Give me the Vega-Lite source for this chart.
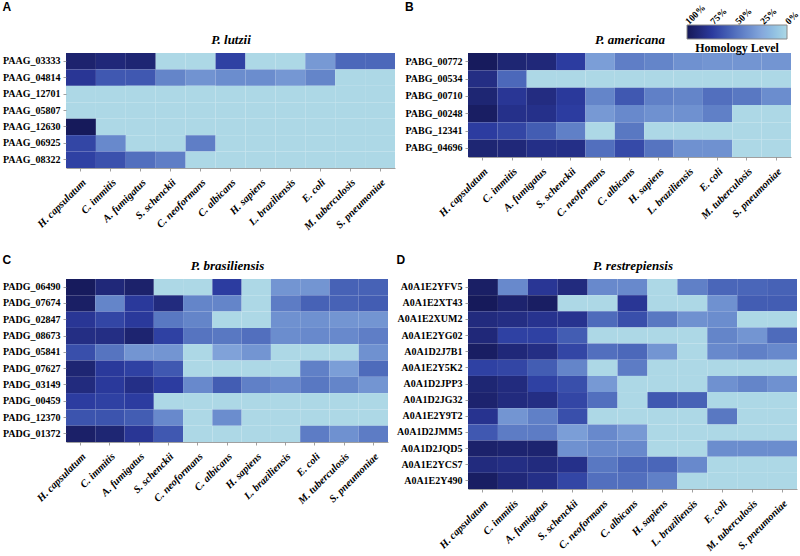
{
  "$schema": "https://vega.github.io/schema/vega-lite/v6.json",
  "padding": {"left": 2, "top": 1, "right": 0, "bottom": 0},
  "background": "white",
  "datasets": {
    "cells": [
      {"p":"A","g":"PAAG_03333","s":"H. capsulatum","v":92},{"p":"A","g":"PAAG_03333","s":"C. immitis","v":88},{"p":"A","g":"PAAG_03333","s":"A. fumigatus","v":90},{"p":"A","g":"PAAG_03333","s":"S. schenckii","v":0},{"p":"A","g":"PAAG_03333","s":"C. neoformans","v":0},{"p":"A","g":"PAAG_03333","s":"C. albicans","v":72},{"p":"A","g":"PAAG_03333","s":"H. sapiens","v":0},{"p":"A","g":"PAAG_03333","s":"L. braziliensis","v":0},{"p":"A","g":"PAAG_03333","s":"E. coli","v":32},{"p":"A","g":"PAAG_03333","s":"M. tuberculosis","v":55},{"p":"A","g":"PAAG_03333","s":"S. pneumoniae","v":55},
      {"p":"A","g":"PAAG_04814","s":"H. capsulatum","v":78},{"p":"A","g":"PAAG_04814","s":"C. immitis","v":62},{"p":"A","g":"PAAG_04814","s":"A. fumigatus","v":62},{"p":"A","g":"PAAG_04814","s":"S. schenckii","v":42},{"p":"A","g":"PAAG_04814","s":"C. neoformans","v":35},{"p":"A","g":"PAAG_04814","s":"C. albicans","v":38},{"p":"A","g":"PAAG_04814","s":"H. sapiens","v":38},{"p":"A","g":"PAAG_04814","s":"L. braziliensis","v":33},{"p":"A","g":"PAAG_04814","s":"E. coli","v":42},{"p":"A","g":"PAAG_04814","s":"M. tuberculosis","v":0},{"p":"A","g":"PAAG_04814","s":"S. pneumoniae","v":0},
      {"p":"A","g":"PAAG_12701","s":"H. capsulatum","v":0},{"p":"A","g":"PAAG_12701","s":"C. immitis","v":0},{"p":"A","g":"PAAG_12701","s":"A. fumigatus","v":0},{"p":"A","g":"PAAG_12701","s":"S. schenckii","v":0},{"p":"A","g":"PAAG_12701","s":"C. neoformans","v":0},{"p":"A","g":"PAAG_12701","s":"C. albicans","v":0},{"p":"A","g":"PAAG_12701","s":"H. sapiens","v":0},{"p":"A","g":"PAAG_12701","s":"L. braziliensis","v":0},{"p":"A","g":"PAAG_12701","s":"E. coli","v":0},{"p":"A","g":"PAAG_12701","s":"M. tuberculosis","v":0},{"p":"A","g":"PAAG_12701","s":"S. pneumoniae","v":0},
      {"p":"A","g":"PAAG_05807","s":"H. capsulatum","v":0},{"p":"A","g":"PAAG_05807","s":"C. immitis","v":0},{"p":"A","g":"PAAG_05807","s":"A. fumigatus","v":0},{"p":"A","g":"PAAG_05807","s":"S. schenckii","v":0},{"p":"A","g":"PAAG_05807","s":"C. neoformans","v":0},{"p":"A","g":"PAAG_05807","s":"C. albicans","v":0},{"p":"A","g":"PAAG_05807","s":"H. sapiens","v":0},{"p":"A","g":"PAAG_05807","s":"L. braziliensis","v":0},{"p":"A","g":"PAAG_05807","s":"E. coli","v":0},{"p":"A","g":"PAAG_05807","s":"M. tuberculosis","v":0},{"p":"A","g":"PAAG_05807","s":"S. pneumoniae","v":0},
      {"p":"A","g":"PAAG_12630","s":"H. capsulatum","v":99},{"p":"A","g":"PAAG_12630","s":"C. immitis","v":0},{"p":"A","g":"PAAG_12630","s":"A. fumigatus","v":0},{"p":"A","g":"PAAG_12630","s":"S. schenckii","v":0},{"p":"A","g":"PAAG_12630","s":"C. neoformans","v":0},{"p":"A","g":"PAAG_12630","s":"C. albicans","v":0},{"p":"A","g":"PAAG_12630","s":"H. sapiens","v":0},{"p":"A","g":"PAAG_12630","s":"L. braziliensis","v":0},{"p":"A","g":"PAAG_12630","s":"E. coli","v":0},{"p":"A","g":"PAAG_12630","s":"M. tuberculosis","v":0},{"p":"A","g":"PAAG_12630","s":"S. pneumoniae","v":0},
      {"p":"A","g":"PAAG_06925","s":"H. capsulatum","v":70},{"p":"A","g":"PAAG_06925","s":"C. immitis","v":40},{"p":"A","g":"PAAG_06925","s":"A. fumigatus","v":0},{"p":"A","g":"PAAG_06925","s":"S. schenckii","v":0},{"p":"A","g":"PAAG_06925","s":"C. neoformans","v":45},{"p":"A","g":"PAAG_06925","s":"C. albicans","v":0},{"p":"A","g":"PAAG_06925","s":"H. sapiens","v":0},{"p":"A","g":"PAAG_06925","s":"L. braziliensis","v":0},{"p":"A","g":"PAAG_06925","s":"E. coli","v":0},{"p":"A","g":"PAAG_06925","s":"M. tuberculosis","v":0},{"p":"A","g":"PAAG_06925","s":"S. pneumoniae","v":0},
      {"p":"A","g":"PAAG_08322","s":"H. capsulatum","v":72},{"p":"A","g":"PAAG_08322","s":"C. immitis","v":65},{"p":"A","g":"PAAG_08322","s":"A. fumigatus","v":52},{"p":"A","g":"PAAG_08322","s":"S. schenckii","v":45},{"p":"A","g":"PAAG_08322","s":"C. neoformans","v":0},{"p":"A","g":"PAAG_08322","s":"C. albicans","v":0},{"p":"A","g":"PAAG_08322","s":"H. sapiens","v":0},{"p":"A","g":"PAAG_08322","s":"L. braziliensis","v":0},{"p":"A","g":"PAAG_08322","s":"E. coli","v":0},{"p":"A","g":"PAAG_08322","s":"M. tuberculosis","v":0},{"p":"A","g":"PAAG_08322","s":"S. pneumoniae","v":0},

      {"p":"B","g":"PABG_00772","s":"H. capsulatum","v":98},{"p":"B","g":"PABG_00772","s":"C. immitis","v":90},{"p":"B","g":"PABG_00772","s":"A. fumigatus","v":88},{"p":"B","g":"PABG_00772","s":"S. schenckii","v":74},{"p":"B","g":"PABG_00772","s":"C. neoformans","v":30},{"p":"B","g":"PABG_00772","s":"C. albicans","v":45},{"p":"B","g":"PABG_00772","s":"H. sapiens","v":42},{"p":"B","g":"PABG_00772","s":"L. braziliensis","v":36},{"p":"B","g":"PABG_00772","s":"E. coli","v":34},{"p":"B","g":"PABG_00772","s":"M. tuberculosis","v":34},{"p":"B","g":"PABG_00772","s":"S. pneumoniae","v":34},
      {"p":"B","g":"PABG_00534","s":"H. capsulatum","v":84},{"p":"B","g":"PABG_00534","s":"C. immitis","v":55},{"p":"B","g":"PABG_00534","s":"A. fumigatus","v":0},{"p":"B","g":"PABG_00534","s":"S. schenckii","v":0},{"p":"B","g":"PABG_00534","s":"C. neoformans","v":0},{"p":"B","g":"PABG_00534","s":"C. albicans","v":0},{"p":"B","g":"PABG_00534","s":"H. sapiens","v":0},{"p":"B","g":"PABG_00534","s":"L. braziliensis","v":0},{"p":"B","g":"PABG_00534","s":"E. coli","v":0},{"p":"B","g":"PABG_00534","s":"M. tuberculosis","v":0},{"p":"B","g":"PABG_00534","s":"S. pneumoniae","v":0},
      {"p":"B","g":"PABG_00710","s":"H. capsulatum","v":90},{"p":"B","g":"PABG_00710","s":"C. immitis","v":78},{"p":"B","g":"PABG_00710","s":"A. fumigatus","v":85},{"p":"B","g":"PABG_00710","s":"S. schenckii","v":76},{"p":"B","g":"PABG_00710","s":"C. neoformans","v":42},{"p":"B","g":"PABG_00710","s":"C. albicans","v":62},{"p":"B","g":"PABG_00710","s":"H. sapiens","v":44},{"p":"B","g":"PABG_00710","s":"L. braziliensis","v":42},{"p":"B","g":"PABG_00710","s":"E. coli","v":52},{"p":"B","g":"PABG_00710","s":"M. tuberculosis","v":48},{"p":"B","g":"PABG_00710","s":"S. pneumoniae","v":38},
      {"p":"B","g":"PABG_00248","s":"H. capsulatum","v":96},{"p":"B","g":"PABG_00248","s":"C. immitis","v":82},{"p":"B","g":"PABG_00248","s":"A. fumigatus","v":82},{"p":"B","g":"PABG_00248","s":"S. schenckii","v":74},{"p":"B","g":"PABG_00248","s":"C. neoformans","v":32},{"p":"B","g":"PABG_00248","s":"C. albicans","v":40},{"p":"B","g":"PABG_00248","s":"H. sapiens","v":36},{"p":"B","g":"PABG_00248","s":"L. braziliensis","v":36},{"p":"B","g":"PABG_00248","s":"E. coli","v":44},{"p":"B","g":"PABG_00248","s":"M. tuberculosis","v":0},{"p":"B","g":"PABG_00248","s":"S. pneumoniae","v":0},
      {"p":"B","g":"PABG_12341","s":"H. capsulatum","v":74},{"p":"B","g":"PABG_12341","s":"C. immitis","v":70},{"p":"B","g":"PABG_12341","s":"A. fumigatus","v":60},{"p":"B","g":"PABG_12341","s":"S. schenckii","v":44},{"p":"B","g":"PABG_12341","s":"C. neoformans","v":0},{"p":"B","g":"PABG_12341","s":"C. albicans","v":48},{"p":"B","g":"PABG_12341","s":"H. sapiens","v":0},{"p":"B","g":"PABG_12341","s":"L. braziliensis","v":0},{"p":"B","g":"PABG_12341","s":"E. coli","v":0},{"p":"B","g":"PABG_12341","s":"M. tuberculosis","v":0},{"p":"B","g":"PABG_12341","s":"S. pneumoniae","v":0},
      {"p":"B","g":"PABG_04696","s":"H. capsulatum","v":90},{"p":"B","g":"PABG_04696","s":"C. immitis","v":88},{"p":"B","g":"PABG_04696","s":"A. fumigatus","v":83},{"p":"B","g":"PABG_04696","s":"S. schenckii","v":83},{"p":"B","g":"PABG_04696","s":"C. neoformans","v":52},{"p":"B","g":"PABG_04696","s":"C. albicans","v":68},{"p":"B","g":"PABG_04696","s":"H. sapiens","v":50},{"p":"B","g":"PABG_04696","s":"L. braziliensis","v":36},{"p":"B","g":"PABG_04696","s":"E. coli","v":36},{"p":"B","g":"PABG_04696","s":"M. tuberculosis","v":0},{"p":"B","g":"PABG_04696","s":"S. pneumoniae","v":0},

      {"p":"C","g":"PADG_06490","s":"H. capsulatum","v":98},{"p":"C","g":"PADG_06490","s":"C. immitis","v":88},{"p":"C","g":"PADG_06490","s":"A. fumigatus","v":93},{"p":"C","g":"PADG_06490","s":"S. schenckii","v":0},{"p":"C","g":"PADG_06490","s":"C. neoformans","v":0},{"p":"C","g":"PADG_06490","s":"C. albicans","v":74},{"p":"C","g":"PADG_06490","s":"H. sapiens","v":0},{"p":"C","g":"PADG_06490","s":"L. braziliensis","v":34},{"p":"C","g":"PADG_06490","s":"E. coli","v":34},{"p":"C","g":"PADG_06490","s":"M. tuberculosis","v":58},{"p":"C","g":"PADG_06490","s":"S. pneumoniae","v":58},
      {"p":"C","g":"PADG_07674","s":"H. capsulatum","v":95},{"p":"C","g":"PADG_07674","s":"C. immitis","v":42},{"p":"C","g":"PADG_07674","s":"A. fumigatus","v":76},{"p":"C","g":"PADG_07674","s":"S. schenckii","v":86},{"p":"C","g":"PADG_07674","s":"C. neoformans","v":42},{"p":"C","g":"PADG_07674","s":"C. albicans","v":42},{"p":"C","g":"PADG_07674","s":"H. sapiens","v":0},{"p":"C","g":"PADG_07674","s":"L. braziliensis","v":46},{"p":"C","g":"PADG_07674","s":"E. coli","v":58},{"p":"C","g":"PADG_07674","s":"M. tuberculosis","v":58},{"p":"C","g":"PADG_07674","s":"S. pneumoniae","v":60},
      {"p":"C","g":"PADG_02847","s":"H. capsulatum","v":78},{"p":"C","g":"PADG_02847","s":"C. immitis","v":70},{"p":"C","g":"PADG_02847","s":"A. fumigatus","v":76},{"p":"C","g":"PADG_02847","s":"S. schenckii","v":48},{"p":"C","g":"PADG_02847","s":"C. neoformans","v":42},{"p":"C","g":"PADG_02847","s":"C. albicans","v":0},{"p":"C","g":"PADG_02847","s":"H. sapiens","v":0},{"p":"C","g":"PADG_02847","s":"L. braziliensis","v":36},{"p":"C","g":"PADG_02847","s":"E. coli","v":36},{"p":"C","g":"PADG_02847","s":"M. tuberculosis","v":34},{"p":"C","g":"PADG_02847","s":"S. pneumoniae","v":34},
      {"p":"C","g":"PADG_08673","s":"H. capsulatum","v":84},{"p":"C","g":"PADG_08673","s":"C. immitis","v":84},{"p":"C","g":"PADG_08673","s":"A. fumigatus","v":91},{"p":"C","g":"PADG_08673","s":"S. schenckii","v":72},{"p":"C","g":"PADG_08673","s":"C. neoformans","v":50},{"p":"C","g":"PADG_08673","s":"C. albicans","v":48},{"p":"C","g":"PADG_08673","s":"H. sapiens","v":52},{"p":"C","g":"PADG_08673","s":"L. braziliensis","v":38},{"p":"C","g":"PADG_08673","s":"E. coli","v":40},{"p":"C","g":"PADG_08673","s":"M. tuberculosis","v":40},{"p":"C","g":"PADG_08673","s":"S. pneumoniae","v":45},
      {"p":"C","g":"PADG_05841","s":"H. capsulatum","v":66},{"p":"C","g":"PADG_05841","s":"C. immitis","v":50},{"p":"C","g":"PADG_05841","s":"A. fumigatus","v":34},{"p":"C","g":"PADG_05841","s":"S. schenckii","v":34},{"p":"C","g":"PADG_05841","s":"C. neoformans","v":0},{"p":"C","g":"PADG_05841","s":"C. albicans","v":28},{"p":"C","g":"PADG_05841","s":"H. sapiens","v":34},{"p":"C","g":"PADG_05841","s":"L. braziliensis","v":0},{"p":"C","g":"PADG_05841","s":"E. coli","v":0},{"p":"C","g":"PADG_05841","s":"M. tuberculosis","v":0},{"p":"C","g":"PADG_05841","s":"S. pneumoniae","v":36},
      {"p":"C","g":"PADG_07627","s":"H. capsulatum","v":90},{"p":"C","g":"PADG_07627","s":"C. immitis","v":76},{"p":"C","g":"PADG_07627","s":"A. fumigatus","v":72},{"p":"C","g":"PADG_07627","s":"S. schenckii","v":62},{"p":"C","g":"PADG_07627","s":"C. neoformans","v":0},{"p":"C","g":"PADG_07627","s":"C. albicans","v":0},{"p":"C","g":"PADG_07627","s":"H. sapiens","v":0},{"p":"C","g":"PADG_07627","s":"L. braziliensis","v":0},{"p":"C","g":"PADG_07627","s":"E. coli","v":44},{"p":"C","g":"PADG_07627","s":"M. tuberculosis","v":30},{"p":"C","g":"PADG_07627","s":"S. pneumoniae","v":54},
      {"p":"C","g":"PADG_03149","s":"H. capsulatum","v":86},{"p":"C","g":"PADG_03149","s":"C. immitis","v":76},{"p":"C","g":"PADG_03149","s":"A. fumigatus","v":83},{"p":"C","g":"PADG_03149","s":"S. schenckii","v":74},{"p":"C","g":"PADG_03149","s":"C. neoformans","v":40},{"p":"C","g":"PADG_03149","s":"C. albicans","v":60},{"p":"C","g":"PADG_03149","s":"H. sapiens","v":44},{"p":"C","g":"PADG_03149","s":"L. braziliensis","v":40},{"p":"C","g":"PADG_03149","s":"E. coli","v":48},{"p":"C","g":"PADG_03149","s":"M. tuberculosis","v":42},{"p":"C","g":"PADG_03149","s":"S. pneumoniae","v":34},
      {"p":"C","g":"PADG_00459","s":"H. capsulatum","v":74},{"p":"C","g":"PADG_00459","s":"C. immitis","v":72},{"p":"C","g":"PADG_00459","s":"A. fumigatus","v":74},{"p":"C","g":"PADG_00459","s":"S. schenckii","v":0},{"p":"C","g":"PADG_00459","s":"C. neoformans","v":0},{"p":"C","g":"PADG_00459","s":"C. albicans","v":0},{"p":"C","g":"PADG_00459","s":"H. sapiens","v":0},{"p":"C","g":"PADG_00459","s":"L. braziliensis","v":0},{"p":"C","g":"PADG_00459","s":"E. coli","v":0},{"p":"C","g":"PADG_00459","s":"M. tuberculosis","v":0},{"p":"C","g":"PADG_00459","s":"S. pneumoniae","v":0},
      {"p":"C","g":"PADG_12370","s":"H. capsulatum","v":64},{"p":"C","g":"PADG_12370","s":"C. immitis","v":64},{"p":"C","g":"PADG_12370","s":"A. fumigatus","v":60},{"p":"C","g":"PADG_12370","s":"S. schenckii","v":40},{"p":"C","g":"PADG_12370","s":"C. neoformans","v":0},{"p":"C","g":"PADG_12370","s":"C. albicans","v":38},{"p":"C","g":"PADG_12370","s":"H. sapiens","v":0},{"p":"C","g":"PADG_12370","s":"L. braziliensis","v":0},{"p":"C","g":"PADG_12370","s":"E. coli","v":0},{"p":"C","g":"PADG_12370","s":"M. tuberculosis","v":0},{"p":"C","g":"PADG_12370","s":"S. pneumoniae","v":0},
      {"p":"C","g":"PADG_01372","s":"H. capsulatum","v":94},{"p":"C","g":"PADG_01372","s":"C. immitis","v":90},{"p":"C","g":"PADG_01372","s":"A. fumigatus","v":78},{"p":"C","g":"PADG_01372","s":"S. schenckii","v":62},{"p":"C","g":"PADG_01372","s":"C. neoformans","v":0},{"p":"C","g":"PADG_01372","s":"C. albicans","v":0},{"p":"C","g":"PADG_01372","s":"H. sapiens","v":0},{"p":"C","g":"PADG_01372","s":"L. braziliensis","v":0},{"p":"C","g":"PADG_01372","s":"E. coli","v":46},{"p":"C","g":"PADG_01372","s":"M. tuberculosis","v":36},{"p":"C","g":"PADG_01372","s":"S. pneumoniae","v":46},

      {"p":"D","g":"A0A1E2YFV5","s":"H. capsulatum","v":95},{"p":"D","g":"A0A1E2YFV5","s":"C. immitis","v":40},{"p":"D","g":"A0A1E2YFV5","s":"A. fumigatus","v":78},{"p":"D","g":"A0A1E2YFV5","s":"S. schenckii","v":86},{"p":"D","g":"A0A1E2YFV5","s":"C. neoformans","v":40},{"p":"D","g":"A0A1E2YFV5","s":"C. albicans","v":40},{"p":"D","g":"A0A1E2YFV5","s":"H. sapiens","v":0},{"p":"D","g":"A0A1E2YFV5","s":"L. braziliensis","v":44},{"p":"D","g":"A0A1E2YFV5","s":"E. coli","v":56},{"p":"D","g":"A0A1E2YFV5","s":"M. tuberculosis","v":56},{"p":"D","g":"A0A1E2YFV5","s":"S. pneumoniae","v":58},
      {"p":"D","g":"A0A1E2XT43","s":"H. capsulatum","v":99},{"p":"D","g":"A0A1E2XT43","s":"C. immitis","v":92},{"p":"D","g":"A0A1E2XT43","s":"A. fumigatus","v":96},{"p":"D","g":"A0A1E2XT43","s":"S. schenckii","v":0},{"p":"D","g":"A0A1E2XT43","s":"C. neoformans","v":0},{"p":"D","g":"A0A1E2XT43","s":"C. albicans","v":78},{"p":"D","g":"A0A1E2XT43","s":"H. sapiens","v":0},{"p":"D","g":"A0A1E2XT43","s":"L. braziliensis","v":0},{"p":"D","g":"A0A1E2XT43","s":"E. coli","v":36},{"p":"D","g":"A0A1E2XT43","s":"M. tuberculosis","v":60},{"p":"D","g":"A0A1E2XT43","s":"S. pneumoniae","v":60},
      {"p":"D","g":"A0A1E2XUM2","s":"H. capsulatum","v":86},{"p":"D","g":"A0A1E2XUM2","s":"C. immitis","v":84},{"p":"D","g":"A0A1E2XUM2","s":"A. fumigatus","v":80},{"p":"D","g":"A0A1E2XUM2","s":"S. schenckii","v":80},{"p":"D","g":"A0A1E2XUM2","s":"C. neoformans","v":54},{"p":"D","g":"A0A1E2XUM2","s":"C. albicans","v":66},{"p":"D","g":"A0A1E2XUM2","s":"H. sapiens","v":48},{"p":"D","g":"A0A1E2XUM2","s":"L. braziliensis","v":36},{"p":"D","g":"A0A1E2XUM2","s":"E. coli","v":38},{"p":"D","g":"A0A1E2XUM2","s":"M. tuberculosis","v":0},{"p":"D","g":"A0A1E2XUM2","s":"S. pneumoniae","v":0},
      {"p":"D","g":"A0A1E2YG02","s":"H. capsulatum","v":88},{"p":"D","g":"A0A1E2YG02","s":"C. immitis","v":72},{"p":"D","g":"A0A1E2YG02","s":"A. fumigatus","v":72},{"p":"D","g":"A0A1E2YG02","s":"S. schenckii","v":60},{"p":"D","g":"A0A1E2YG02","s":"C. neoformans","v":0},{"p":"D","g":"A0A1E2YG02","s":"C. albicans","v":0},{"p":"D","g":"A0A1E2YG02","s":"H. sapiens","v":0},{"p":"D","g":"A0A1E2YG02","s":"L. braziliensis","v":0},{"p":"D","g":"A0A1E2YG02","s":"E. coli","v":42},{"p":"D","g":"A0A1E2YG02","s":"M. tuberculosis","v":34},{"p":"D","g":"A0A1E2YG02","s":"S. pneumoniae","v":54},
      {"p":"D","g":"A0A1D2J7B1","s":"H. capsulatum","v":96},{"p":"D","g":"A0A1D2J7B1","s":"C. immitis","v":88},{"p":"D","g":"A0A1D2J7B1","s":"A. fumigatus","v":84},{"p":"D","g":"A0A1D2J7B1","s":"S. schenckii","v":70},{"p":"D","g":"A0A1D2J7B1","s":"C. neoformans","v":52},{"p":"D","g":"A0A1D2J7B1","s":"C. albicans","v":55},{"p":"D","g":"A0A1D2J7B1","s":"H. sapiens","v":34},{"p":"D","g":"A0A1D2J7B1","s":"L. braziliensis","v":0},{"p":"D","g":"A0A1D2J7B1","s":"E. coli","v":40},{"p":"D","g":"A0A1D2J7B1","s":"M. tuberculosis","v":44},{"p":"D","g":"A0A1D2J7B1","s":"S. pneumoniae","v":40},
      {"p":"D","g":"A0A1E2Y5K2","s":"H. capsulatum","v":72},{"p":"D","g":"A0A1E2Y5K2","s":"C. immitis","v":70},{"p":"D","g":"A0A1E2Y5K2","s":"A. fumigatus","v":60},{"p":"D","g":"A0A1E2Y5K2","s":"S. schenckii","v":42},{"p":"D","g":"A0A1E2Y5K2","s":"C. neoformans","v":0},{"p":"D","g":"A0A1E2Y5K2","s":"C. albicans","v":46},{"p":"D","g":"A0A1E2Y5K2","s":"H. sapiens","v":0},{"p":"D","g":"A0A1E2Y5K2","s":"L. braziliensis","v":0},{"p":"D","g":"A0A1E2Y5K2","s":"E. coli","v":0},{"p":"D","g":"A0A1E2Y5K2","s":"M. tuberculosis","v":0},{"p":"D","g":"A0A1E2Y5K2","s":"S. pneumoniae","v":0},
      {"p":"D","g":"A0A1D2JPP3","s":"H. capsulatum","v":90},{"p":"D","g":"A0A1D2JPP3","s":"C. immitis","v":86},{"p":"D","g":"A0A1D2JPP3","s":"A. fumigatus","v":72},{"p":"D","g":"A0A1D2JPP3","s":"S. schenckii","v":66},{"p":"D","g":"A0A1D2JPP3","s":"C. neoformans","v":32},{"p":"D","g":"A0A1D2JPP3","s":"C. albicans","v":0},{"p":"D","g":"A0A1D2JPP3","s":"H. sapiens","v":0},{"p":"D","g":"A0A1D2JPP3","s":"L. braziliensis","v":0},{"p":"D","g":"A0A1D2JPP3","s":"E. coli","v":36},{"p":"D","g":"A0A1D2JPP3","s":"M. tuberculosis","v":42},{"p":"D","g":"A0A1D2JPP3","s":"S. pneumoniae","v":36},
      {"p":"D","g":"A0A1D2JG32","s":"H. capsulatum","v":92},{"p":"D","g":"A0A1D2JG32","s":"C. immitis","v":86},{"p":"D","g":"A0A1D2JG32","s":"A. fumigatus","v":84},{"p":"D","g":"A0A1D2JG32","s":"S. schenckii","v":70},{"p":"D","g":"A0A1D2JG32","s":"C. neoformans","v":52},{"p":"D","g":"A0A1D2JG32","s":"C. albicans","v":0},{"p":"D","g":"A0A1D2JG32","s":"H. sapiens","v":62},{"p":"D","g":"A0A1D2JG32","s":"L. braziliensis","v":58},{"p":"D","g":"A0A1D2JG32","s":"E. coli","v":0},{"p":"D","g":"A0A1D2JG32","s":"M. tuberculosis","v":0},{"p":"D","g":"A0A1D2JG32","s":"S. pneumoniae","v":0},
      {"p":"D","g":"A0A1E2Y9T2","s":"H. capsulatum","v":80},{"p":"D","g":"A0A1E2Y9T2","s":"C. immitis","v":34},{"p":"D","g":"A0A1E2Y9T2","s":"A. fumigatus","v":44},{"p":"D","g":"A0A1E2Y9T2","s":"S. schenckii","v":66},{"p":"D","g":"A0A1E2Y9T2","s":"C. neoformans","v":0},{"p":"D","g":"A0A1E2Y9T2","s":"C. albicans","v":0},{"p":"D","g":"A0A1E2Y9T2","s":"H. sapiens","v":0},{"p":"D","g":"A0A1E2Y9T2","s":"L. braziliensis","v":0},{"p":"D","g":"A0A1E2Y9T2","s":"E. coli","v":48},{"p":"D","g":"A0A1E2Y9T2","s":"M. tuberculosis","v":0},{"p":"D","g":"A0A1E2Y9T2","s":"S. pneumoniae","v":0},
      {"p":"D","g":"A0A1D2JMM5","s":"H. capsulatum","v":62},{"p":"D","g":"A0A1D2JMM5","s":"C. immitis","v":46},{"p":"D","g":"A0A1D2JMM5","s":"A. fumigatus","v":46},{"p":"D","g":"A0A1D2JMM5","s":"S. schenckii","v":30},{"p":"D","g":"A0A1D2JMM5","s":"C. neoformans","v":40},{"p":"D","g":"A0A1D2JMM5","s":"C. albicans","v":32},{"p":"D","g":"A0A1D2JMM5","s":"H. sapiens","v":0},{"p":"D","g":"A0A1D2JMM5","s":"L. braziliensis","v":0},{"p":"D","g":"A0A1D2JMM5","s":"E. coli","v":0},{"p":"D","g":"A0A1D2JMM5","s":"M. tuberculosis","v":0},{"p":"D","g":"A0A1D2JMM5","s":"S. pneumoniae","v":0},
      {"p":"D","g":"A0A1D2JQD5","s":"H. capsulatum","v":93},{"p":"D","g":"A0A1D2JQD5","s":"C. immitis","v":91},{"p":"D","g":"A0A1D2JQD5","s":"A. fumigatus","v":91},{"p":"D","g":"A0A1D2JQD5","s":"S. schenckii","v":36},{"p":"D","g":"A0A1D2JQD5","s":"C. neoformans","v":40},{"p":"D","g":"A0A1D2JQD5","s":"C. albicans","v":40},{"p":"D","g":"A0A1D2JQD5","s":"H. sapiens","v":0},{"p":"D","g":"A0A1D2JQD5","s":"L. braziliensis","v":0},{"p":"D","g":"A0A1D2JQD5","s":"E. coli","v":38},{"p":"D","g":"A0A1D2JQD5","s":"M. tuberculosis","v":38},{"p":"D","g":"A0A1D2JQD5","s":"S. pneumoniae","v":38},
      {"p":"D","g":"A0A1E2YCS7","s":"H. capsulatum","v":86},{"p":"D","g":"A0A1E2YCS7","s":"C. immitis","v":84},{"p":"D","g":"A0A1E2YCS7","s":"A. fumigatus","v":86},{"p":"D","g":"A0A1E2YCS7","s":"S. schenckii","v":82},{"p":"D","g":"A0A1E2YCS7","s":"C. neoformans","v":48},{"p":"D","g":"A0A1E2YCS7","s":"C. albicans","v":56},{"p":"D","g":"A0A1E2YCS7","s":"H. sapiens","v":56},{"p":"D","g":"A0A1E2YCS7","s":"L. braziliensis","v":40},{"p":"D","g":"A0A1E2YCS7","s":"E. coli","v":0},{"p":"D","g":"A0A1E2YCS7","s":"M. tuberculosis","v":0},{"p":"D","g":"A0A1E2YCS7","s":"S. pneumoniae","v":0},
      {"p":"D","g":"A0A1E2Y490","s":"H. capsulatum","v":96},{"p":"D","g":"A0A1E2Y490","s":"C. immitis","v":88},{"p":"D","g":"A0A1E2Y490","s":"A. fumigatus","v":83},{"p":"D","g":"A0A1E2Y490","s":"S. schenckii","v":70},{"p":"D","g":"A0A1E2Y490","s":"C. neoformans","v":52},{"p":"D","g":"A0A1E2Y490","s":"C. albicans","v":52},{"p":"D","g":"A0A1E2Y490","s":"H. sapiens","v":44},{"p":"D","g":"A0A1E2Y490","s":"L. braziliensis","v":0},{"p":"D","g":"A0A1E2Y490","s":"E. coli","v":0},{"p":"D","g":"A0A1E2Y490","s":"M. tuberculosis","v":0},{"p":"D","g":"A0A1E2Y490","s":"S. pneumoniae","v":0}
    ]
  },
  "data": {"name": "cells"},
  "vconcat": [
    {
      "hconcat": [
        {
          "title": {"text": "A", "offset": 19},
          "width": 329, "height": 115,
          "transform": [{"filter": "datum.p === 'A'"}],
          "layer": [
            {"mark": "rect", "encoding": {
              "x": {"field": "s", "type": "nominal", "sort": ["H. capsulatum","C. immitis","A. fumigatus","S. schenckii","C. neoformans","C. albicans","H. sapiens","L. braziliensis","E. coli","M. tuberculosis","S. pneumoniae"], "axis": {"orient": "bottom", "title": null}},
              "y": {"field": "g", "type": "nominal", "sort": null, "axis": {"title": null}},
              "color": {"field": "v", "type": "quantitative", "title": "Homology Level",
                "scale": {"domain": [100, 75, 50, 25, 0], "range": ["#151958", "#2b3a9e", "#5674c0", "#86a8dc", "#add8e6"]},
                "legend": {"orient": "none", "legendX": 621, "legendY": -28, "direction": "horizontal", "gradientLength": 100, "gradientThickness": 14, "values": [100, 75, 50, 25, 0], "labelExpr": "datum.value + '%'", "labelOverlap": false, "encode": {"labels": {"update": {"angle": {"value": -45}, "align": {"value": "left"}, "baseline": {"value": "middle"}, "y": {"value": -2}}}}}}
            }},
            {"mark": {"type": "rect", "opacity": 0}, "encoding": {
              "x": {"field": "s", "type": "nominal", "sort": ["H. capsulatum","C. immitis","A. fumigatus","S. schenckii","C. neoformans","C. albicans","H. sapiens","L. braziliensis","E. coli","M. tuberculosis","S. pneumoniae"], "axis": {"orient": "top", "title": "P. lutzii", "labels": false, "ticks": false, "domain": false}},
              "y": {"field": "g", "type": "nominal", "sort": null}
            }}
          ],
          "resolve": {"axis": {"x": "independent"}}
        },
        {
          "title": {"text": "B", "offset": 19},
          "width": 323, "height": 104,
          "transform": [{"filter": "datum.p === 'B'"}],
          "layer": [
            {"mark": "rect", "encoding": {
              "x": {"field": "s", "type": "nominal", "sort": ["H. capsulatum","C. immitis","A. fumigatus","S. schenckii","C. neoformans","C. albicans","H. sapiens","L. braziliensis","E. coli","M. tuberculosis","S. pneumoniae"], "axis": {"orient": "bottom", "title": null}},
              "y": {"field": "g", "type": "nominal", "sort": null, "axis": {"title": null}},
              "color": {"field": "v", "type": "quantitative", "title": "Homology Level",
                "scale": {"domain": [100, 75, 50, 25, 0], "range": ["#151958", "#2b3a9e", "#5674c0", "#86a8dc", "#add8e6"]},
                "legend": {"orient": "none", "legendX": 621, "legendY": -28, "direction": "horizontal", "gradientLength": 100, "gradientThickness": 14, "values": [100, 75, 50, 25, 0], "labelExpr": "datum.value + '%'", "labelOverlap": false, "encode": {"labels": {"update": {"angle": {"value": -45}, "align": {"value": "left"}, "baseline": {"value": "middle"}, "y": {"value": -2}}}}}}
            }},
            {"mark": {"type": "rect", "opacity": 0}, "encoding": {
              "x": {"field": "s", "type": "nominal", "sort": ["H. capsulatum","C. immitis","A. fumigatus","S. schenckii","C. neoformans","C. albicans","H. sapiens","L. braziliensis","E. coli","M. tuberculosis","S. pneumoniae"], "axis": {"orient": "top", "title": "P. americana", "labels": false, "ticks": false, "domain": false}},
              "y": {"field": "g", "type": "nominal", "sort": null}
            }}
          ],
          "resolve": {"axis": {"x": "independent"}}
        }
      ],
      "spacing": 8
    },
    {
      "hconcat": [
        {
          "title": {"text": "C", "offset": -8},
          "width": 322, "height": 163,
          "transform": [{"filter": "datum.p === 'C'"}],
          "layer": [
            {"mark": "rect", "encoding": {
              "x": {"field": "s", "type": "nominal", "sort": ["H. capsulatum","C. immitis","A. fumigatus","S. schenckii","C. neoformans","C. albicans","H. sapiens","L. braziliensis","E. coli","M. tuberculosis","S. pneumoniae"], "axis": {"orient": "bottom", "title": null}},
              "y": {"field": "g", "type": "nominal", "sort": null, "axis": {"title": null}},
              "color": {"field": "v", "type": "quantitative", "title": "Homology Level",
                "scale": {"domain": [100, 75, 50, 25, 0], "range": ["#151958", "#2b3a9e", "#5674c0", "#86a8dc", "#add8e6"]},
                "legend": {"orient": "none", "legendX": 621, "legendY": -28, "direction": "horizontal", "gradientLength": 100, "gradientThickness": 14, "values": [100, 75, 50, 25, 0], "labelExpr": "datum.value + '%'", "labelOverlap": false, "encode": {"labels": {"update": {"angle": {"value": -45}, "align": {"value": "left"}, "baseline": {"value": "middle"}, "y": {"value": -2}}}}}}
            }},
            {"mark": {"type": "rect", "opacity": 0}, "encoding": {
              "x": {"field": "s", "type": "nominal", "sort": ["H. capsulatum","C. immitis","A. fumigatus","S. schenckii","C. neoformans","C. albicans","H. sapiens","L. braziliensis","E. coli","M. tuberculosis","S. pneumoniae"], "axis": {"orient": "top", "title": "P. brasiliensis", "labels": false, "ticks": false, "domain": false}},
              "y": {"field": "g", "type": "nominal", "sort": null}
            }}
          ],
          "resolve": {"axis": {"x": "independent"}}
        },
        {
          "title": {"text": "D", "offset": -8},
          "width": 329, "height": 210,
          "transform": [{"filter": "datum.p === 'D'"}],
          "layer": [
            {"mark": "rect", "encoding": {
              "x": {"field": "s", "type": "nominal", "sort": ["H. capsulatum","C. immitis","A. fumigatus","S. schenckii","C. neoformans","C. albicans","H. sapiens","L. braziliensis","E. coli","M. tuberculosis","S. pneumoniae"], "axis": {"orient": "bottom", "title": null}},
              "y": {"field": "g", "type": "nominal", "sort": null, "axis": {"title": null}},
              "color": {"field": "v", "type": "quantitative", "title": "Homology Level",
                "scale": {"domain": [100, 75, 50, 25, 0], "range": ["#151958", "#2b3a9e", "#5674c0", "#86a8dc", "#add8e6"]},
                "legend": {"orient": "none", "legendX": 621, "legendY": -28, "direction": "horizontal", "gradientLength": 100, "gradientThickness": 14, "values": [100, 75, 50, 25, 0], "labelExpr": "datum.value + '%'", "labelOverlap": false, "encode": {"labels": {"update": {"angle": {"value": -45}, "align": {"value": "left"}, "baseline": {"value": "middle"}, "y": {"value": -2}}}}}}
            }},
            {"mark": {"type": "rect", "opacity": 0}, "encoding": {
              "x": {"field": "s", "type": "nominal", "sort": ["H. capsulatum","C. immitis","A. fumigatus","S. schenckii","C. neoformans","C. albicans","H. sapiens","L. braziliensis","E. coli","M. tuberculosis","S. pneumoniae"], "axis": {"orient": "top", "title": "P. restrepiensis", "labels": false, "ticks": false, "domain": false}},
              "y": {"field": "g", "type": "nominal", "sort": null}
            }}
          ],
          "resolve": {"axis": {"x": "independent"}}
        }
      ],
      "spacing": 8
    }
  ],
  "spacing": 22,
  "config": {
    "view": {"stroke": null},
    "scale": {"bandPaddingInner": 0, "bandPaddingOuter": 0},
    "title": {"anchor": "start", "frame": "bounds", "font": "Liberation Sans", "fontSize": 12, "fontWeight": "bold", "color": "#000"},
    "axis": {"labelFont": "Liberation Serif", "labelFontWeight": "bold", "labelColor": "#000", "tickColor": "#888", "domainColor": "#888", "tickSize": 3, "tickWidth": 0.8, "domainWidth": 0.8, "titleFont": "Liberation Serif", "titleFontStyle": "italic", "titleFontWeight": "bold", "titleFontSize": 13, "titleColor": "#000", "titlePadding": 7},
    "axisX": {"labelAngle": -45, "labelFontStyle": "italic", "labelFontSize": 10.5, "labelPadding": 6},
    "axisY": {"labelFontSize": 10, "labelPadding": 3, "domain": false},
    "legend": {"labelFont": "Liberation Serif", "labelFontWeight": "bold", "labelFontSize": 9.5, "labelColor": "#000", "titleFont": "Liberation Serif", "titleFontSize": 12, "titleFontWeight": "bold", "titleColor": "#000", "titleOrient": "bottom", "titleAnchor": "middle", "titlePadding": 3, "gradientStrokeColor": "#888", "gradientStrokeWidth": 1}
  }
}
